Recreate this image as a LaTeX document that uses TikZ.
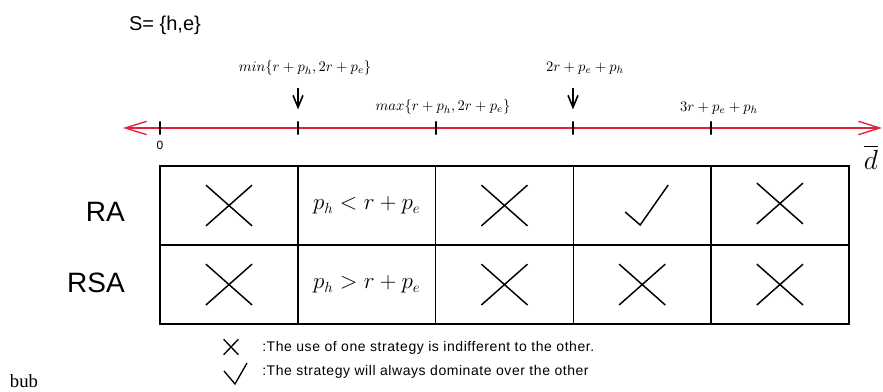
\documentclass[tikz,border=0pt]{standalone}
\usepackage{amsmath,amssymb}
\usepackage{fontspec}
\setmainfont{Liberation Serif}
\setsansfont{Liberation Sans}
\usepackage{xcolor}
\usepackage{tikz}
\usetikzlibrary{arrows.meta,positioning,shapes.misc}
\definecolor{axisred}{RGB}{226,32,56}

\begin{document}
\begin{tikzpicture}[
    x=0.75pt, y=-0.75pt,
    node distance=0pt,
    cell/.style={rectangle, draw, line width=1.1pt, minimum width=103.3pt, minimum height=59.3pt, inner sep=0pt, outer sep=0pt, font=\fontsize{16}{19}\selectfont},
    xmark/.style={cross out, draw, line width=1.1pt, minimum width=33.5pt, minimum height=29.5pt, inner sep=0pt},
    okmark/.style={line width=1.1pt},
    tickmark/.style={rectangle, draw, line width=1.1pt, minimum width=0pt, minimum height=9.8pt, inner sep=0pt},
    axisline/.style={axisred, line width=1pt, {Straight Barb[length=16pt, width=10pt]}-{Straight Barb[length=16pt, width=10pt]}},
    darrow/.style={line width=1.2pt, -{Straight Barb[length=9pt, width=7.5pt]}},
    boundlab/.style={font=\fontsize{11.2}{13}\selectfont, inner sep=0pt},
    rowlab/.style={font=\sffamily\fontsize{21}{24}\selectfont, anchor=east, inner sep=0pt},
    legend/.style={font=\sffamily\fontsize{10.5}{12}\selectfont\addfontfeatures{LetterSpace=4}, anchor=west, inner sep=0pt}
]
\useasboundingbox (0,0) rectangle (883,392);

% Set name
\node[font=\sffamily\fontsize{15}{18}\selectfont, inner sep=0pt] (set) at (165,25) {S= \{h,e\}};

% Axis
\coordinate (lend) at (123,128);
\coordinate (rend) at (882,128);
\draw[axisline] (lend) -- (rend);

\node[tickmark] (t0) at (160,128) {};
\node[tickmark] (t1) at (298,128) {};
\node[tickmark] (t2) at (436,128) {};
\node[tickmark] (t3) at (573,128) {};
\node[tickmark] (t4) at (711,128) {};

\node[font=\sffamily\fontsize{9}{11}\selectfont, below=1pt of t0] (zero) {0};
\node[font=\fontsize{22}{25}\selectfont, inner sep=0pt] (dbar) at (871,157) {$\overline{d}$};

% Bounds on the axis
\node[boundlab] (lmin) at (305,68) {$min\{r+p_h,2r+p_e\}$};
\node[boundlab] (lmax) at (443,107) {$max\{r+p_h,2r+p_e\}$};
\node[boundlab] (lsum) at (585,68) {$2r+p_e+p_h$};
\node[boundlab] (lthree) at (719,108) {$3r+p_e+p_h$};

\coordinate (amin) at (298,88);
\coordinate (asum) at (573,88);
\draw[darrow] (amin) -- ([yshift=8.5pt]t1.north);
\draw[darrow] (asum) -- ([yshift=8.5pt]t3.north);

% Table
\node[cell] (c11) at (229,205.5) {};
\node[cell, right=of c11] (c12) {$p_h<r+p_e$};
\node[cell, right=of c12] (c13) {};
\node[cell, right=of c13] (c14) {};
\node[cell, right=of c14] (c15) {};
\node[cell, below=of c11] (c21) {};
\node[cell, right=of c21] (c22) {$p_h>r+p_e$};
\node[cell, right=of c22] (c23) {};
\node[cell, right=of c23] (c24) {};
\node[cell, right=of c24] (c25) {};

\node[rowlab] (ra) at (125,212) {RA};
\node[rowlab] (rsa) at (125,283) {RSA};

% Marks
\node[xmark] (x11) at (c11) {};
\node[xmark] (x13) at (c13) {};
\node[xmark, yshift=1.5pt] (x15) at (c15) {};
\node[xmark] (x21) at (c21) {};
\node[xmark] (x23) at (c23) {};
\node[xmark] (x24) at (c24) {};
\node[xmark] (x25) at (c25) {};
\draw[okmark] (c14.center) ++(-17,6.5) -- ++(15,13) -- ++(28,-40);

% Legend
\node[xmark, line width=1pt, minimum width=10pt, minimum height=10.5pt] (lgx) at (231,347) {};
\node[legend] (lgxt) at (262,348) {:The use of one strategy is indifferent to the other.};
\draw[okmark, line width=1pt] (224,371) -- (235,384) -- (247,363);
\node[legend] (lgct) at (262,372) {:The strategy will always dominate over the other};

\node[font=\fontsize{14}{16}\selectfont, inner sep=0pt] (bub) at (24,381) {bub};
\end{tikzpicture}
\end{document}
